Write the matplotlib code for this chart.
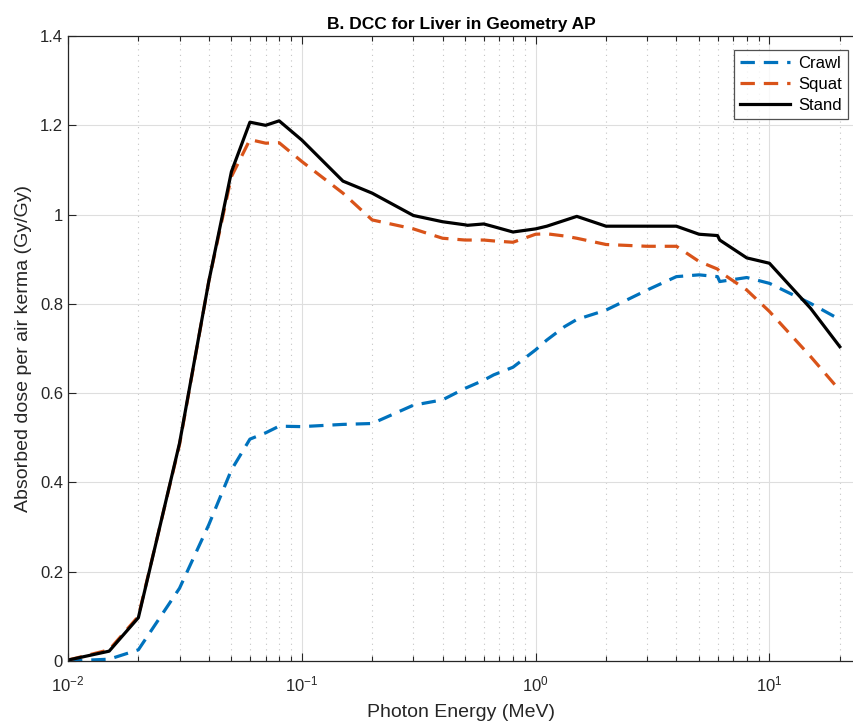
import matplotlib
matplotlib.use("Agg")
import matplotlib.pyplot as plt
from matplotlib.ticker import LogLocator, FixedLocator, NullFormatter

plt.rcParams["font.family"] = ["Liberation Sans", "DejaVu Sans"]

# photon energies (MeV)
energy = [0.01, 0.015, 0.02, 0.03, 0.04, 0.05, 0.06, 0.07, 0.08, 0.1, 0.15, 0.2,
          0.3, 0.4, 0.5, 0.511, 0.6, 0.662, 0.8, 1.0, 1.117, 1.33, 1.5, 2.0,
          3.0, 4.0, 5.0, 6.0, 6.129, 8.0, 10.0, 15.0, 20.0]

crawl = [0.0, 0.004, 0.025, 0.163, 0.305, 0.428, 0.497, 0.511, 0.526, 0.525,
         0.530, 0.532, 0.573, 0.585, 0.611, 0.613, 0.629, 0.641, 0.658, 0.697,
         0.719, 0.749, 0.765, 0.786, 0.831, 0.861, 0.865, 0.861, 0.850, 0.859,
         0.846, 0.801, 0.765]

squat = [0.002, 0.025, 0.100, 0.485, 0.850, 1.085, 1.168, 1.160, 1.161, 1.119,
         1.048, 0.988, 0.968, 0.947, 0.943, 0.943, 0.943, 0.941, 0.938, 0.956,
         0.957, 0.952, 0.947, 0.933, 0.929, 0.929, 0.895, 0.878, 0.872, 0.831,
         0.783, 0.682, 0.606]

stand = [0.002, 0.022, 0.097, 0.488, 0.850, 1.096, 1.207, 1.200, 1.210, 1.167,
         1.075, 1.048, 0.998, 0.984, 0.977, 0.976, 0.979, 0.973, 0.961, 0.968,
         0.974, 0.987, 0.996, 0.974, 0.974, 0.974, 0.956, 0.953, 0.943, 0.903,
         0.891, 0.790, 0.704]

yticks = [0, 0.2, 0.4, 0.6, 0.8, 1.0, 1.2, 1.4]
ytick_labels = ["0", "0.2", "0.4", "0.6", "0.8", "1", "1.2", "1.4"]

fig = plt.figure(figsize=(8.54, 7.25), dpi=100)
ax = fig.add_axes([0.0796, 0.0883, 0.9204, 0.862])

ax.plot(energy, crawl, color="#0072BD", lw=2.3, ls=(0, (4.5, 2.8)), label="Crawl")
ax.plot(energy, squat, color="#D95319", lw=2.3, ls=(0, (4.5, 2.8)), label="Squat")
ax.plot(energy, stand, color="black", lw=2.3, label="Stand")

ax.set_xscale("log")
ax.set_xlim(0.01, 23)
ax.set_ylim(0, 1.4)
ax.yaxis.set_major_locator(FixedLocator(yticks))
ax.set_yticklabels(ytick_labels)
ax.xaxis.set_major_locator(LogLocator(base=10))
ax.xaxis.set_minor_locator(LogLocator(base=10, subs=range(2, 10)))
ax.xaxis.set_minor_formatter(NullFormatter())

ax.grid(True, which="major", color="#dedede", lw=0.8, ls="-")
ax.grid(True, which="minor", axis="x", color="#c4c4c4", lw=0.8, ls=(0, (1, 4)))
ax.set_axisbelow(True)

ax.tick_params(which="both", direction="in", top=True, right=False,
               labelsize=12, colors="#262626")
ax.tick_params(which="major", length=6, width=0.8)
ax.tick_params(which="minor", length=3.5, width=0.8)
ax.tick_params(axis="x", pad=10)
for side in ["left", "bottom", "top"]:
    ax.spines[side].set_color("#262626")
    ax.spines[side].set_linewidth(0.9)
ax.spines["right"].set_visible(False)

ax.set_xlabel("Photon Energy (MeV)", fontsize=14, color="#262626", labelpad=7)
ax.set_ylabel("Absorbed dose per air kerma (Gy/Gy)", fontsize=14, color="#262626",
              labelpad=6)
ax.set_title("B. DCC for Liver in Geometry AP", fontsize=12.5, fontweight="bold", pad=5)

leg = ax.legend(loc="upper right", bbox_to_anchor=(0.992, 0.978), borderaxespad=0,
                fontsize=12, frameon=True, fancybox=False, edgecolor="#262626",
                handlelength=3.0, labelspacing=0.38, borderpad=0.35,
                handletextpad=0.5)
leg.get_frame().set_linewidth(0.9)

fig.savefig("out.png", dpi=100)
